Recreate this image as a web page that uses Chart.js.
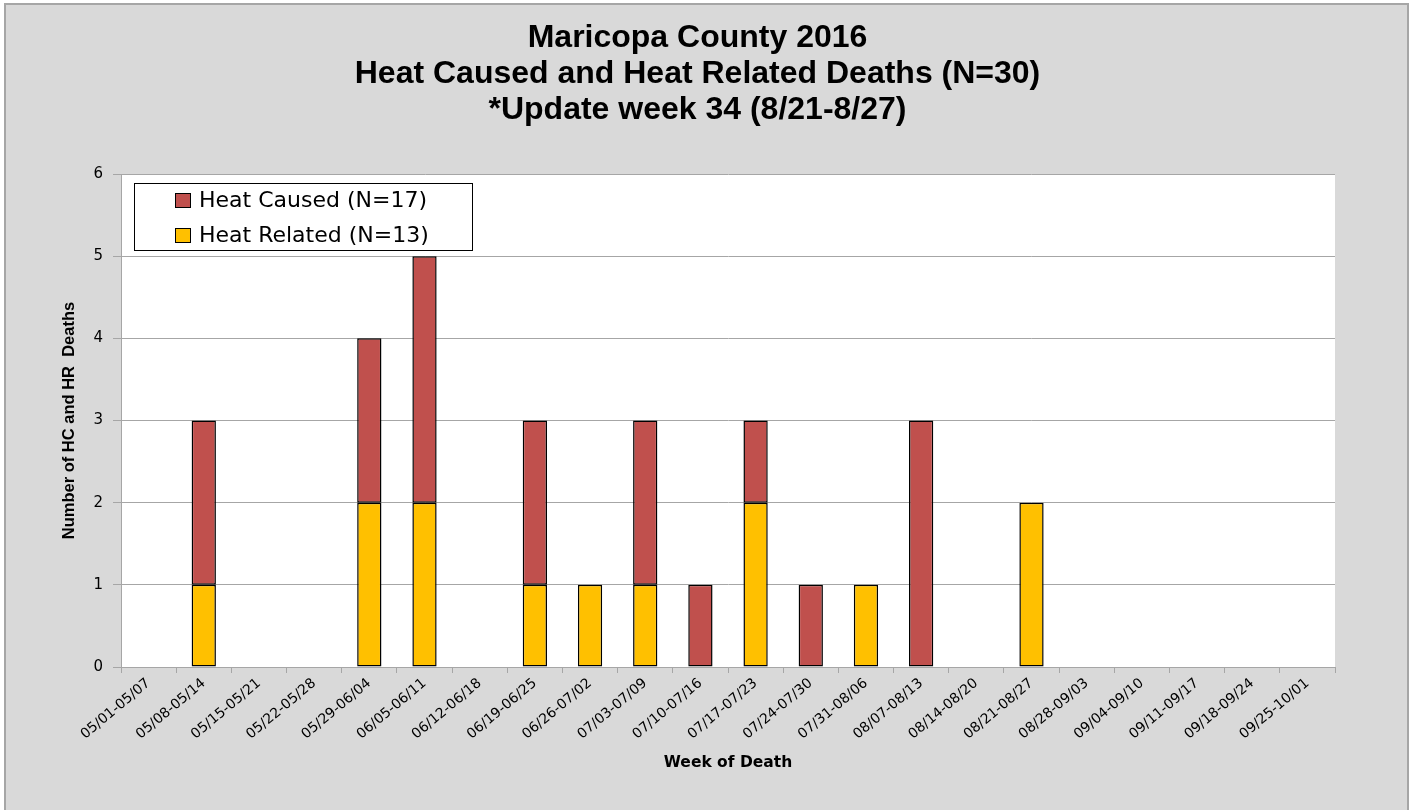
<!DOCTYPE html>
<html>
<head>
<meta charset="utf-8">
<title>Maricopa County 2016 heat deaths</title>
<script src="https://cdn.jsdelivr.net/npm/chart.js@4.4.0/dist/chart.umd.min.js"></script>
<style>
  html, body { margin: 0; padding: 0; background: #fff; }
  #frame {
    position: absolute; left: 4px; top: 3px;
    width: 1401px; height: 830px;
    background: #d9d9d9; border: 2px solid #a6a6a6;
  }
  #myChart { position: absolute; left: 0; top: 0; }
</style>
</head>
<body>
<div id="frame"></div>
<canvas id="myChart" width="1411" height="810"></canvas>
<script>
const weeks = [
  '05/01-05/07', '05/08-05/14', '05/15-05/21', '05/22-05/28', '05/29-06/04',
  '06/05-06/11', '06/12-06/18', '06/19-06/25', '06/26-07/02', '07/03-07/09',
  '07/10-07/16', '07/17-07/23', '07/24-07/30', '07/31-08/06', '08/07-08/13',
  '08/14-08/20', '08/21-08/27', '08/28-09/03', '09/04-09/10', '09/11-09/17',
  '09/18-09/24', '09/25-10/01'
];
const heatRelated = [0, 1, 0, 0, 2, 2, 0, 1, 1, 1, 0, 2, 0, 1, 0, 0, 2, 0, 0, 0, 0, 0];
const heatCaused  = [0, 2, 0, 0, 2, 3, 0, 2, 0, 2, 1, 1, 1, 0, 3, 0, 0, 0, 0, 0, 0, 0];
const titleLines = [
  'Maricopa County 2016',
  'Heat Caused and Heat Related Deaths (N=30)',
  '*Update week 34 (8/21-8/27)'
];
const yTicks = [0, 1, 2, 3, 4, 5, 6];

// zero weeks have no bar at all
const noZero = arr => arr.map(v => (v === 0 ? null : v));

// white plot area on the grey page
const plotBackground = {
  id: 'plotBackground',
  beforeDraw(chart) {
    const { ctx, chartArea } = chart;
    ctx.save();
    ctx.fillStyle = '#ffffff';
    ctx.fillRect(chartArea.left, chartArea.top, chartArea.right - chartArea.left, chartArea.bottom - chartArea.top);
    ctx.restore();
  }
};

// boxed legend inside the plot, top left
const boxLegend = {
  id: 'boxLegend',
  afterDatasetsDraw(chart, _, opts) {
    const { ctx, chartArea } = chart;
    const x = chartArea.left + opts.left;
    const y = chartArea.top + opts.top;
    ctx.save();
    ctx.fillStyle = '#ffffff';
    ctx.fillRect(x, y, opts.width, opts.height);
    ctx.strokeStyle = '#000000';
    ctx.lineWidth = 1;
    ctx.strokeRect(x + 0.5, y + 0.5, opts.width, opts.height);
    ctx.font = opts.font;
    ctx.textBaseline = 'middle';
    chart.data.datasets.slice().reverse().forEach((ds, i) => {
      const cy = y + opts.firstRow + i * opts.rowGap;
      ctx.fillStyle = ds.backgroundColor;
      ctx.fillRect(x + opts.swatchX, cy - 7, 15, 14);
      ctx.strokeRect(x + opts.swatchX + 0.5, cy - 6.5, 15, 14);
      ctx.fillStyle = '#000000';
      ctx.fillText(ds.label, x + opts.textX, cy + 1);
    });
    ctx.restore();
  }
};

new Chart('myChart', {
  type: 'bar',
  data: {
    labels: weeks,
    datasets: [{
      label: 'Heat Related (N=13)',
      data: noZero(heatRelated),
      backgroundColor: '#ffc000',
      borderColor: '#000000',
      borderWidth: 1.5,
      borderSkipped: false,
      barPercentage: 0.44,
      categoryPercentage: 1
    }, {
      label: 'Heat Caused (N=17)',
      data: noZero(heatCaused),
      backgroundColor: '#c0504d',
      borderColor: '#000000',
      borderWidth: 1.5,
      borderSkipped: false,
      barPercentage: 0.44,
      categoryPercentage: 1
    }]
  },
  plugins: [plotBackground, boxLegend],
  options: {
    responsive: false,
    animation: false,
    layout: { padding: { top: 0, left: 60, right: 76, bottom: 38 } },
    plugins: {
      legend: { display: false },
      tooltip: { enabled: false },
      title: {
        display: true,
        text: titleLines,
        color: '#000000',
        font: { family: '"Liberation Sans", Arial, sans-serif', size: 32, weight: 'bold', lineHeight: '36px' },
        padding: { top: 20, bottom: 46 }
      },
      boxLegend: {
        left: 13, top: 9, width: 338, height: 67,
        firstRow: 17, rowGap: 35, swatchX: 41, textX: 65,
        font: '22px "DejaVu Sans", Verdana, sans-serif'
      }
    },
    scales: {
      x: {
        stacked: true,
        afterFit: scale => { scale.height = 105; },
        border: { color: '#a6a6a6' },
        grid: {
          offset: true,
          drawOnChartArea: false,
          color: '#a6a6a6',
          tickLength: 6
        },
        ticks: {
          autoSkip: false,
          minRotation: 40,
          maxRotation: 40,
          padding: 2,
          color: '#000000',
          font: { family: '"DejaVu Sans", Verdana, sans-serif', size: 14 }
        },
        title: {
          display: true,
          text: 'Week of Death',
          color: '#000000',
          font: { family: '"DejaVu Sans", Verdana, sans-serif', size: 15.5, weight: 'bold' },
          padding: { top: 1, bottom: 0 }
        }
      },
      y: {
        stacked: true,
        min: yTicks[0],
        max: yTicks[yTicks.length - 1],
        afterFit: scale => { scale.width = 61; },
        afterBuildTicks: scale => { scale.ticks = yTicks.map(v => ({ value: v })); },
        border: { color: '#a6a6a6' },
        grid: {
          color: '#a6a6a6',
          tickLength: 8
        },
        ticks: {
          padding: 10,
          color: '#000000',
          font: { family: '"DejaVu Sans", Verdana, sans-serif', size: 15 }
        },
        title: {
          display: true,
          text: 'Number of HC and HR  Deaths',
          color: '#000000',
          font: { family: '"Liberation Sans", Arial, sans-serif', size: 16.5, weight: 'bold' },
          padding: { top: 0, bottom: 0 }
        }
      }
    }
  }
});
</script>
</body>
</html>
